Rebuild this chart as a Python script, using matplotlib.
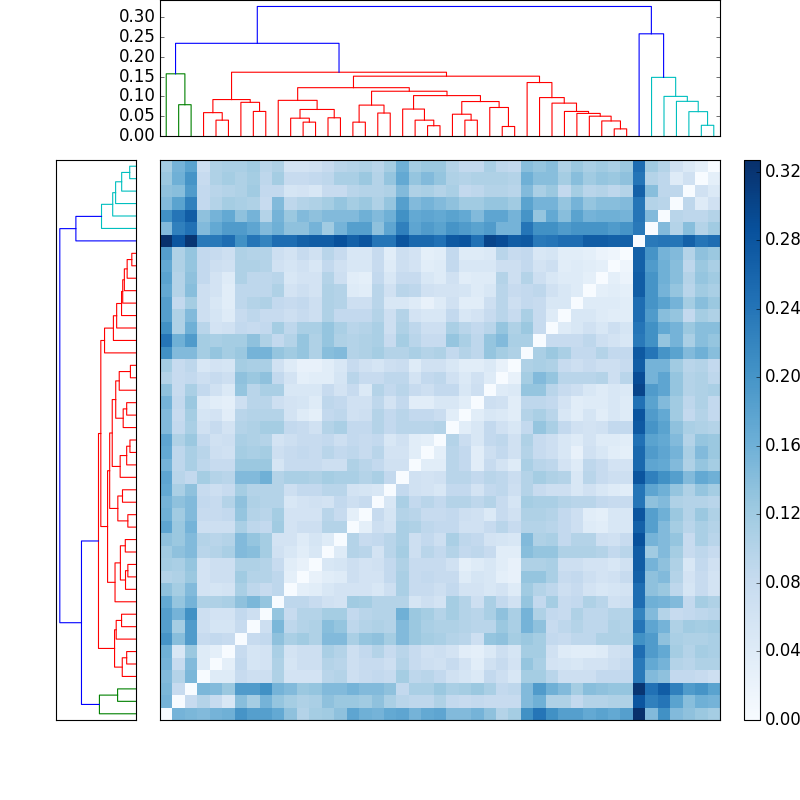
import numpy as np
import matplotlib
matplotlib.use('Agg')
import matplotlib.pyplot as plt

plt.style.use('classic')

# distances, lower triangle, row 0 is the bottom row of the heatmap (x 1000)
lower = [
 [],
 [155],
 [150, 80],
 [145, 100, 150],
 [155, 80, 145, 40],
 [160, 50, 125, 40, 30],
 [200, 140, 190, 80, 85, 80],
 [185, 115, 190, 70, 55, 55, 80],
 [185, 155, 205, 70, 60, 60, 85, 70],
 [170, 130, 155, 105, 105, 110, 135, 150, 130],
 [135, 115, 145, 60, 55, 60, 110, 90, 80, 90],
 [100, 105, 125, 60, 70, 70, 120, 100, 100, 90, 30],
 [115, 110, 130, 60, 70, 70, 105, 105, 100, 80, 35, 25],
 [120, 135, 145, 95, 100, 110, 145, 140, 115, 65, 50, 35, 50],
 [135, 125, 145, 100, 95, 100, 145, 130, 115, 60, 60, 40, 55, 40],
 [175, 125, 155, 70, 70, 70, 110, 90, 85, 120, 60, 70, 70, 100, 100],
 [160, 120, 145, 80, 80, 85, 130, 100, 95, 115, 60, 60, 60, 95, 80, 30],
 [155, 135, 145, 85, 80, 100, 135, 105, 100, 100, 50, 60, 65, 60, 85, 70, 80],
 [170, 110, 135, 80, 70, 80, 115, 100, 100, 100, 70, 85, 85, 95, 95, 60, 55, 50],
 [175, 95, 85, 115, 100, 95, 145, 145, 160, 100, 110, 110, 105, 115, 110, 110, 100, 110, 85],
 [155, 90, 110, 90, 80, 80, 125, 125, 125, 55, 80, 80, 80, 70, 70, 105, 95, 85, 65, 65],
 [170, 90, 110, 95, 70, 65, 115, 110, 115, 70, 80, 85, 80, 95, 85, 90, 80, 95, 60, 60, 35],
 [175, 105, 125, 85, 65, 70, 110, 105, 100, 60, 70, 80, 80, 85, 70, 85, 80, 85, 50, 65, 35, 30],
 [145, 85, 110, 65, 80, 60, 100, 105, 115, 115, 85, 80, 65, 100, 110, 85, 85, 100, 85, 95, 95, 95, 100],
 [145, 80, 115, 55, 60, 35, 95, 100, 100, 100, 60, 40, 30, 85, 90, 65, 70, 100, 85, 95, 85, 85, 75, 35],
 [155, 85, 125, 45, 35, 30, 70, 95, 95, 70, 60, 55, 40, 90, 85, 65, 65, 90, 60, 85, 35, 35, 50, 50, 35],
 [135, 80, 110, 85, 65, 45, 130, 95, 110, 110, 50, 50, 50, 80, 60, 80, 45, 100, 85, 95, 80, 70, 85, 85, 50, 70],
 [100, 80, 85, 70, 80, 70, 135, 125, 135, 85, 60, 30, 35, 35, 55, 95, 80, 80, 90, 90, 60, 85, 90, 65, 45, 65, 40],
 [115, 80, 90, 50, 60, 55, 115, 110, 110, 65, 40, 25, 25, 35, 50, 80, 65, 55, 70, 75, 40, 65, 65, 50, 35, 35, 45, 25],
 [205, 145, 145, 115, 130, 115, 125, 155, 155, 130, 120, 130, 105, 140, 145, 100, 105, 115, 100, 100, 110, 100, 105, 85, 100, 90, 130, 115, 105],
 [240, 160, 190, 115, 110, 115, 115, 135, 105, 85, 100, 130, 105, 130, 105, 100, 105, 110, 80, 115, 95, 80, 80, 130, 110, 90, 130, 145, 110, 110],
 [205, 105, 160, 95, 60, 65, 85, 80, 85, 115, 90, 110, 110, 130, 110, 95, 100, 110, 70, 105, 90, 70, 70, 110, 95, 85, 95, 130, 105, 125, 80],
 [185, 105, 145, 70, 55, 40, 80, 90, 80, 80, 70, 80, 70, 105, 85, 85, 85, 100, 70, 100, 60, 50, 50, 85, 50, 60, 80, 95, 80, 110, 80, 40],
 [185, 85, 115, 70, 50, 35, 90, 100, 105, 85, 80, 85, 70, 105, 100, 70, 70, 95, 50, 50, 40, 25, 40, 65, 35, 35, 70, 95, 70, 85, 80, 50, 50],
 [170, 100, 140, 70, 60, 35, 90, 90, 90, 105, 60, 70, 60, 105, 100, 40, 35, 95, 65, 95, 90, 65, 60, 60, 55, 40, 50, 95, 80, 85, 90, 65, 50, 40],
 [180, 100, 135, 85, 60, 40, 105, 90, 90, 95, 50, 60, 60, 100, 70, 35, 30, 85, 50, 80, 80, 50, 40, 65, 35, 40, 40, 100, 70, 100, 70, 50, 40, 40, 30],
 [170, 105, 130, 85, 70, 65, 105, 105, 100, 65, 55, 65, 50, 85, 65, 50, 50, 80, 40, 70, 60, 35, 40, 85, 50, 50, 50, 70, 70, 85, 60, 70, 35, 40, 35, 30],
 [185, 105, 130, 85, 80, 70, 105, 100, 100, 70, 60, 80, 65, 95, 80, 50, 50, 80, 35, 70, 60, 30, 35, 85, 40, 40, 45, 95, 80, 85, 50, 55, 35, 35, 30, 20, 15],
 [325, 280, 320, 235, 235, 250, 205, 240, 220, 250, 250, 265, 270, 270, 285, 265, 280, 240, 240, 280, 255, 255, 245, 275, 280, 245, 300, 290, 270, 275, 235, 240, 250, 250, 270, 270, 265, 265],
 [145, 225, 245, 145, 170, 190, 190, 175, 145, 160, 135, 135, 155, 120, 155, 185, 185, 135, 175, 225, 175, 190, 180, 200, 190, 180, 190, 155, 155, 240, 205, 205, 190, 200, 200, 200, 190, 200, 235],
 [205, 240, 270, 135, 155, 170, 135, 155, 100, 155, 125, 145, 135, 145, 145, 145, 160, 145, 160, 205, 170, 175, 170, 180, 170, 145, 175, 175, 155, 200, 130, 170, 140, 180, 155, 160, 160, 155, 240, 145],
 [145, 180, 225, 85, 100, 115, 110, 105, 80, 145, 90, 100, 105, 115, 130, 115, 125, 105, 130, 185, 145, 155, 145, 135, 120, 120, 130, 130, 120, 180, 155, 155, 130, 155, 130, 140, 140, 145, 240, 100, 95],
 [135, 140, 190, 85, 95, 100, 105, 120, 85, 85, 55, 60, 50, 80, 80, 95, 100, 100, 105, 145, 105, 110, 100, 110, 85, 90, 100, 100, 95, 145, 110, 125, 85, 115, 95, 100, 90, 100, 265, 140, 90, 90],
 [125, 160, 200, 80, 105, 115, 105, 115, 90, 115, 80, 80, 85, 90, 110, 110, 125, 100, 130, 170, 130, 145, 130, 105, 100, 105, 105, 105, 100, 160, 140, 140, 115, 140, 120, 130, 125, 135, 240, 100, 90, 40, 65],
 [115, 155, 180, 70, 105, 110, 110, 120, 95, 105, 60, 60, 65, 80, 95, 100, 105, 95, 115, 160, 115, 125, 125, 100, 85, 85, 110, 90, 85, 140, 130, 140, 105, 125, 110, 120, 110, 125, 250, 120, 100, 65, 45, 30],
]

# merge trees, node is (height, left, right), ints are leaf positions
green_tree = (0.157, 0, (0.079, 1, 2))
cyan_tree = (0.148, 39, (0.100, 40, (0.0875, 41, (0.0615, 42, (0.027, 43, 44)))))

red_a = (0.092, (0.059, 3, (0.040, 4, 5)), (0.085, 6, (0.062, 7, 8)))
red_b = (0.090, 9, (0.067, (0.045, 10, (0.035, 11, 12)), (0.046, 13, 14)))
red_c = (0.078, (0.035, 15, 16), (0.058, 17, 18))
red_d1 = (0.068, 19, (0.040, 20, (0.026, 21, 22)))
red_d2 = (0.087, (0.055, 23, (0.040, 24, 25)), (0.072, 26, (0.024, 27, 28)))
red_e = (0.135, 29, (0.097, 30, (0.083, 31, (0.062, 32, (0.057, 33, (0.050, 34, (0.038, 35, (0.018, 36, 37))))))))
red_mid = (0.122, red_b, (0.113, red_c, (0.102, red_d1, red_d2)))
red_tree = (0.161, red_a, (0.151, red_mid, red_e))

top_height = 0.327
left_height = 0.234
right_height = 0.258
n_leaves = 45
cbar_ticks = [0.0, 0.04, 0.08, 0.12, 0.16, 0.20, 0.24, 0.28, 0.32]


def links(node, out):
    # returns centre of this node, appends the U shapes
    if isinstance(node, int):
        return node + 0.5, 0.0
    h, a, b = node
    xa, ha = links(a, out)
    xb, hb = links(b, out)
    out.append(([xa, xa, xb, xb], [ha, h, h, hb]))
    return (xa + xb) / 2.0, h


def collect():
    groups = []
    for tree, col in [(green_tree, 'g'), (red_tree, 'r'), (cyan_tree, 'c')]:
        segs = []
        x, h = links(tree, segs)
        groups.append((segs, col, x, h))
    blue = []
    gx, gh = groups[0][2], groups[0][3]
    rx, rh = groups[1][2], groups[1][3]
    cx, ch = groups[2][2], groups[2][3]
    lx = (gx + rx) / 2.0
    blue.append(([gx, gx, rx, rx], [gh, left_height, left_height, rh]))
    rgt = (38.5 + cx) / 2.0
    blue.append(([38.5, 38.5, cx, cx], [0, right_height, right_height, ch]))
    blue.append(([lx, lx, rgt, rgt], [left_height, top_height, top_height, right_height]))
    groups.append((blue, 'b', 0, 0))
    return groups


dist = np.zeros((n_leaves, n_leaves))
for i, row in enumerate(lower):
    dist[i, :len(row)] = np.array(row) / 1000.0
dist = dist + dist.T

fig = plt.figure(figsize=(10, 10), dpi=80, facecolor='w')

ax_top = fig.add_axes([0.2, 0.83, 0.7, 0.17])
ax_left = fig.add_axes([0.07, 0.1, 0.1, 0.7])
ax_main = fig.add_axes([0.2, 0.1, 0.7, 0.7])
ax_cb = fig.add_axes([0.93, 0.1, 0.02, 0.7])

for segs, col, _, _ in collect():
    for xs, ys in segs:
        ax_top.plot(xs, ys, color=col, linewidth=1.0, snap=False)
        ax_left.plot(ys, xs, color=col, linewidth=1.0, snap=False)

ylim_max = top_height * 1.05
ax_top.set_xlim(0, n_leaves)
ax_top.set_ylim(0, ylim_max)
ax_top.set_xticks([])
ax_top.set_yticks([0, 0.05, 0.10, 0.15, 0.20, 0.25, 0.30])
ax_top.set_yticklabels(['0.00', '0.05', '0.10', '0.15', '0.20', '0.25', '0.30'])
ax_top.tick_params(labelsize=15)

ax_left.set_ylim(0, n_leaves)
ax_left.set_xlim(ylim_max, 0)
ax_left.set_xticks([])
ax_left.set_yticks([])

im = ax_main.imshow(dist, origin='lower', aspect='auto', cmap='Blues',
                    interpolation='nearest', vmin=0, vmax=top_height)
ax_main.set_xticks([])
ax_main.set_yticks([])

cb = fig.colorbar(im, cax=ax_cb, ticks=cbar_ticks)
cb.ax.set_yticklabels(['%.2f' % t for t in cbar_ticks])
cb.ax.tick_params(labelsize=15)

fig.savefig('out.png', dpi=80)
